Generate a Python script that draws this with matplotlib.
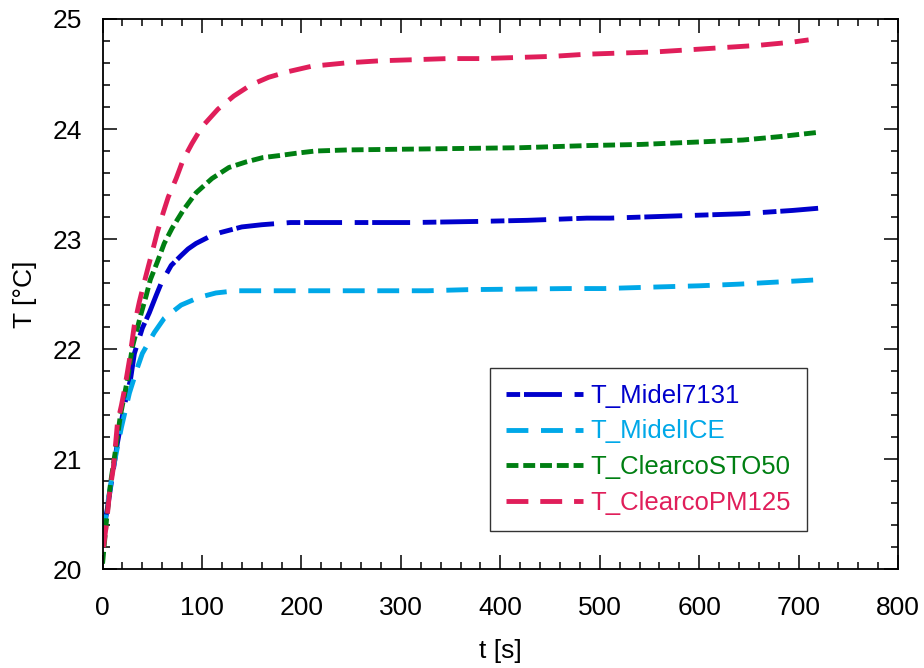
import matplotlib
matplotlib.use("Agg")
import matplotlib.pyplot as plt
from matplotlib.ticker import MultipleLocator

plt.rcParams['font.family'] = ['Liberation Sans', 'DejaVu Sans']

# ---- data ----
t_midel7131 = [0, 5, 15, 22, 28, 32, 40, 47, 54, 59, 69, 79, 86, 94, 107, 119, 140, 160, 189,
               250, 311, 377, 427, 487, 510, 577, 644, 694, 720]
T_midel7131 = [20.30, 20.56, 21.15, 21.49, 21.72, 21.96, 22.19, 22.33, 22.49, 22.60, 22.76,
               22.85, 22.91, 22.96, 23.02, 23.06, 23.11, 23.13, 23.15, 23.15, 23.15, 23.16,
               23.17, 23.19, 23.19, 23.21, 23.23, 23.26, 23.28]

t_midelice = [0, 11, 19, 27, 35, 40, 52, 62, 79, 97, 114, 134, 155, 190, 327, 367, 467, 504,
              560, 600, 640, 680, 720]
T_midelice = [20.30, 20.93, 21.29, 21.60, 21.83, 21.96, 22.15, 22.28, 22.40, 22.47, 22.51,
              22.53, 22.53, 22.53, 22.53, 22.54, 22.55, 22.55, 22.565, 22.575, 22.59,
              22.61, 22.63]

t_sto50 = [0, 4, 8, 13, 18, 25, 30, 39, 44, 48, 55, 62, 70, 81, 94, 110, 127, 144, 161,
           179, 195, 214, 247, 334, 420, 490, 542, 594, 644, 680, 720]
T_sto50 = [20.05, 20.45, 20.78, 21.08, 21.40, 21.72, 22.02, 22.33, 22.49, 22.63, 22.79,
           22.96, 23.10, 23.26, 23.42, 23.55, 23.65, 23.70, 23.74, 23.76, 23.78, 23.80,
           23.81, 23.82, 23.83, 23.85, 23.86, 23.88, 23.90, 23.93, 23.97]

t_pm125 = [1, 4, 7, 11, 15, 19, 22, 27, 32, 37, 42, 46, 51, 55, 61, 66, 74, 81, 90, 100,
           116, 132, 149, 167, 186, 210, 244, 279, 314, 347, 382, 417, 452, 487, 520, 555,
           590, 624, 659, 694, 710]
T_pm125 = [20.20, 20.42, 20.69, 20.93, 21.33, 21.49, 21.63, 21.90, 22.22, 22.43, 22.61,
           22.75, 22.92, 23.06, 23.24, 23.38, 23.55, 23.72, 23.87, 24.02, 24.18, 24.30,
           24.40, 24.47, 24.52, 24.57, 24.60, 24.62, 24.63, 24.64, 24.64, 24.65, 24.66,
           24.68, 24.69, 24.70, 24.72, 24.74, 24.76, 24.79, 24.81]

labels = ["T_Midel7131", "T_MidelICE", "T_ClearcoSTO50", "T_ClearcoPM125"]
colors = ["#0000CC", "#00A8E8", "#007F12", "#E01E5A"]

fig = plt.figure(figsize=(9.24, 6.68), dpi=100)
ax = fig.add_axes([0.111, 0.148, 0.861, 0.8236])

lw = 3.5
l1, = ax.plot(t_midel7131, T_midel7131, color=colors[0], lw=lw, label=labels[0])
l1.set_dashes([2.8, 0.8, 7.8, 2.6])
l2, = ax.plot(t_midelice, T_midelice, color=colors[1], lw=lw, label=labels[1])
l2.set_dashes([4.5, 2.6])
l3, = ax.plot(t_sto50, T_sto50, color=colors[2], lw=lw, label=labels[2])
l3.set_dashes([2.45, 1.0])
l4, = ax.plot(t_pm125, T_pm125, color=colors[3], lw=lw, label=labels[3])
l4.set_dashes([4.5, 2.45])

ax.set_xlim(0, 800)
ax.set_ylim(20, 25)
ax.xaxis.set_major_locator(MultipleLocator(100))
ax.xaxis.set_minor_locator(MultipleLocator(20))
ax.yaxis.set_major_locator(MultipleLocator(1))
ax.yaxis.set_minor_locator(MultipleLocator(0.2))
ax.tick_params(which='both', direction='in', top=True, right=True, labelsize=19,
               width=1.1, colors='black')
ax.tick_params(which='major', length=10)
ax.tick_params(axis='x', which='major', pad=19)
ax.tick_params(axis='y', which='major', pad=15)
ax.tick_params(which='minor', length=5)
for s in ax.spines.values():
    s.set_linewidth(1.3)

ax.set_xlabel("t [s]", fontsize=19)
ax.set_ylabel("T [°C]", fontsize=19)
ax.xaxis.set_label_coords(0.5, (569 - 651) / 550)
ax.xaxis.label.set_verticalalignment('center')
ax.yaxis.set_label_coords((25 - 102.7) / 795.3, 0.5)
ax.yaxis.label.set_verticalalignment('center')

leg = ax.legend(loc='upper left', bbox_to_anchor=(490/924, 1 - 368/668),
                bbox_transform=fig.transFigure, fontsize=18.5, frameon=True,
                fancybox=False, edgecolor='#333333', framealpha=1,
                handlelength=3.0, handletextpad=0.28, borderpad=0.62,
                labelspacing=0.45, borderaxespad=0)
leg.get_frame().set_linewidth(1.0)
for txt, c in zip(leg.get_texts(), colors):
    txt.set_color(c)

fig.savefig("out.png", dpi=100)
